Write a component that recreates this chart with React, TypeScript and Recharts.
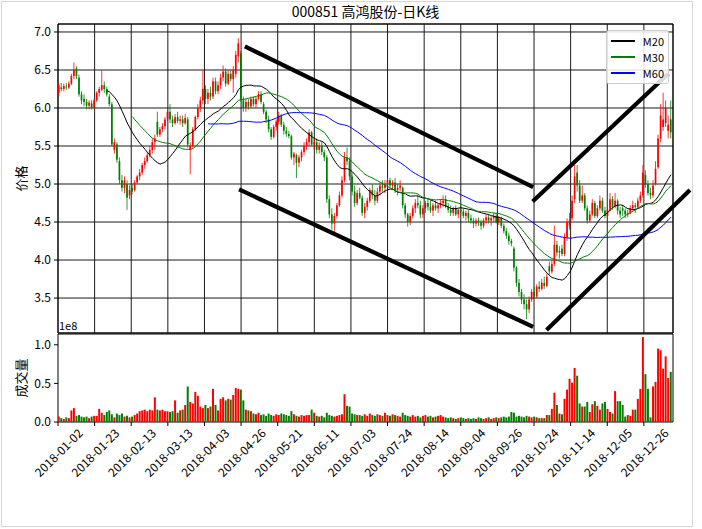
import React from 'react';
import {
  ComposedChart, Bar, Line, XAxis, YAxis, CartesianGrid, ReferenceLine,
  ReferenceArea, Legend, Cell, Label,
} from 'recharts';

const FONT = '"Noto Sans CJK SC", "Noto Sans", sans-serif';
const TITLE = '000851 高鸿股份-日K线';

// x tick labels (every 15th trading day)
const tickLabels = [
  '2018-01-02', '2018-01-23', '2018-02-13', '2018-03-13', '2018-04-03', '2018-04-26',
  '2018-05-21', '2018-06-11', '2018-07-03', '2018-07-24', '2018-08-14', '2018-09-04',
  '2018-09-26', '2018-10-24', '2018-11-14', '2018-12-05', '2018-12-26',
];
const priceTicks = [3.5, 4.0, 4.5, 5.0, 5.5, 6.0, 6.5, 7.0];
const volumeTicks = [0, 50, 100]; // millions of shares (axis shows 1e8 units)

// daily candles [open, high, low, close]
const jan = [
  [6.20, 6.33, 6.15, 6.30], [6.27, 6.33, 6.22, 6.25], [6.25, 6.32, 6.22, 6.29], [6.28, 6.33, 6.24, 6.27],
  [6.27, 6.35, 6.25, 6.32], [6.32, 6.45, 6.30, 6.42], [6.42, 6.60, 6.38, 6.50], [6.52, 6.55, 6.38, 6.42],
  [6.40, 6.44, 6.15, 6.18], [6.18, 6.22, 6.05, 6.10], [6.12, 6.18, 6.02, 6.08], [6.08, 6.12, 5.98, 6.03],
  [6.03, 6.10, 5.98, 6.07], [6.06, 6.10, 5.98, 6.00], [6.01, 6.12, 5.99, 6.10], [6.10, 6.22, 6.08, 6.20],
  [6.20, 6.28, 6.15, 6.25], [6.24, 6.50, 6.22, 6.30], [6.30, 6.35, 6.20, 6.25], [6.25, 6.28, 6.15, 6.18],
  [6.15, 6.18, 6.02, 6.05], [6.05, 6.08, 5.50, 5.52],
];
const feb = [
  [5.45, 5.60, 5.40, 5.55], [5.52, 5.55, 5.28, 5.32], [5.30, 5.35, 5.00, 5.05], [5.05, 5.12, 4.90, 4.95],
  [4.95, 5.10, 4.88, 5.05], [5.00, 5.05, 4.66, 4.82], [4.85, 4.98, 4.80, 4.92], [4.95, 5.00, 4.86, 4.90],
  [4.92, 5.05, 4.90, 5.02], [5.02, 5.12, 5.00, 5.10], [5.10, 5.20, 5.05, 5.15], [5.15, 5.28, 5.12, 5.25],
  [5.25, 5.35, 5.20, 5.30], [5.30, 5.42, 5.28, 5.38], [5.38, 5.50, 5.35, 5.45],
];
const mar = [
  [5.45, 5.60, 5.40, 5.55], [5.55, 5.65, 5.45, 5.60], [5.82, 5.95, 5.62, 5.65], [5.65, 5.75, 5.62, 5.72],
  [5.72, 5.80, 5.68, 5.76], [5.76, 5.88, 5.72, 5.85], [5.85, 5.98, 5.82, 5.95], [5.95, 6.05, 5.80, 5.85],
  [5.85, 5.90, 5.75, 5.80], [5.80, 5.92, 5.78, 5.88], [5.88, 5.95, 5.80, 5.83], [5.83, 5.90, 5.78, 5.85],
  [5.85, 5.90, 5.75, 5.80], [5.80, 5.92, 5.78, 5.87], [5.85, 5.88, 5.48, 5.52], [5.45, 5.55, 5.13, 5.50],
  [5.50, 5.75, 5.48, 5.72], [5.72, 5.90, 5.70, 5.88], [5.88, 6.05, 5.85, 6.00], [6.00, 6.15, 5.95, 6.10],
  [6.10, 6.50, 6.05, 6.25], [6.25, 6.30, 6.05, 6.12],
];
const apr = [
  [6.12, 6.25, 6.05, 6.20], [6.20, 6.28, 6.10, 6.15], [6.15, 6.40, 6.12, 6.35], [6.35, 6.40, 6.18, 6.22],
  [6.22, 6.35, 6.18, 6.30], [6.30, 6.45, 6.25, 6.40], [6.40, 6.56, 6.35, 6.48], [6.48, 6.52, 6.28, 6.32],
  [6.32, 6.50, 6.30, 6.45], [6.45, 6.50, 6.35, 6.38], [6.38, 6.55, 6.20, 6.50], [6.45, 6.75, 6.40, 6.70],
  [6.68, 6.92, 6.60, 6.85], [6.72, 6.75, 6.08, 6.12], [6.10, 6.15, 5.95, 6.00], [6.00, 6.12, 5.95, 6.08],
  [6.08, 6.12, 5.98, 6.02], [6.02, 6.15, 6.00, 6.12],
];
const may = [
  [6.12, 6.15, 6.02, 6.05], [6.05, 6.15, 6.00, 6.12], [6.12, 6.22, 6.10, 6.18], [6.18, 6.22, 6.05, 6.08],
  [6.05, 6.08, 5.92, 5.95], [5.95, 5.98, 5.80, 5.85], [5.85, 5.90, 5.68, 5.72], [5.72, 5.75, 5.58, 5.62],
  [5.62, 5.78, 5.60, 5.75], [5.75, 5.85, 5.70, 5.82], [5.82, 5.95, 5.78, 5.90], [5.90, 5.92, 5.75, 5.78],
  [5.78, 5.82, 5.65, 5.70], [5.70, 5.75, 5.62, 5.66], [5.66, 5.70, 5.60, 5.63], [5.63, 5.65, 5.32, 5.35],
  [5.35, 5.42, 5.25, 5.40], [5.38, 5.40, 5.08, 5.28], [5.28, 5.38, 5.22, 5.35], [5.35, 5.45, 5.30, 5.42],
  [5.42, 5.55, 5.38, 5.50], [5.50, 5.60, 5.45, 5.55],
];
const jun = [
  [5.55, 5.72, 5.50, 5.68], [5.68, 5.70, 5.50, 5.52], [5.52, 5.60, 5.45, 5.55], [5.55, 5.60, 5.40, 5.45],
  [5.45, 5.55, 5.40, 5.50], [5.50, 5.55, 5.38, 5.42], [5.42, 5.45, 5.30, 5.35], [5.35, 5.38, 4.75, 4.80],
  [4.80, 4.85, 4.55, 4.60], [4.60, 4.68, 4.40, 4.48], [4.48, 4.62, 4.37, 4.58], [4.58, 4.75, 4.55, 4.72],
  [4.72, 4.90, 4.70, 4.85], [4.85, 5.10, 4.82, 5.05], [5.05, 5.42, 5.02, 5.35], [5.35, 5.48, 5.25, 5.30],
  [5.30, 5.35, 5.05, 5.10], [5.10, 5.15, 4.85, 4.90], [4.90, 4.98, 4.70, 4.75], [4.75, 4.92, 4.72, 4.88],
];
const jul = [
  [4.88, 4.95, 4.80, 4.82], [4.82, 4.85, 4.58, 4.62], [4.62, 4.75, 4.55, 4.70], [4.70, 4.82, 4.65, 4.78],
  [4.78, 4.95, 4.75, 4.92], [4.92, 5.00, 4.80, 4.85], [4.85, 4.92, 4.72, 4.78], [4.78, 4.95, 4.75, 4.90],
  [4.90, 5.02, 4.85, 4.98], [4.98, 5.05, 4.90, 4.95], [4.95, 5.05, 4.88, 5.00], [5.00, 5.08, 4.95, 5.05],
  [5.05, 5.08, 4.95, 4.98], [4.98, 5.05, 4.92, 5.02], [5.02, 5.08, 4.88, 4.92], [4.92, 5.00, 4.85, 4.95],
  [4.95, 5.05, 4.90, 4.98], [4.95, 4.97, 4.68, 4.72], [4.72, 4.75, 4.55, 4.60], [4.60, 4.62, 4.44, 4.50],
  [4.50, 4.62, 4.46, 4.58], [4.58, 4.72, 4.55, 4.68],
];
const aug = [
  [4.68, 4.80, 4.62, 4.75], [4.75, 4.85, 4.68, 4.72], [4.72, 4.78, 4.55, 4.60], [4.60, 4.72, 4.55, 4.68],
  [4.68, 4.78, 4.62, 4.75], [4.75, 4.80, 4.65, 4.70], [4.70, 4.78, 4.62, 4.65], [4.65, 4.75, 4.58, 4.72],
  [4.72, 4.78, 4.65, 4.68], [4.68, 4.75, 4.62, 4.72], [4.72, 4.80, 4.68, 4.75], [4.75, 4.85, 4.70, 4.78],
  [4.80, 4.85, 4.68, 4.70], [4.70, 4.75, 4.62, 4.66], [4.66, 4.72, 4.58, 4.62], [4.62, 4.70, 4.58, 4.68],
  [4.68, 4.72, 4.58, 4.60], [4.60, 4.68, 4.55, 4.66], [4.66, 4.72, 4.60, 4.64], [4.64, 4.68, 4.55, 4.58],
  [4.58, 4.65, 4.52, 4.62], [4.62, 4.66, 4.50, 4.55], [4.55, 4.60, 4.48, 4.52],
];
const sep = [
  [4.52, 4.55, 4.42, 4.48], [4.48, 4.55, 4.44, 4.52], [4.52, 4.56, 4.45, 4.50], [4.50, 4.53, 4.40, 4.45],
  [4.45, 4.55, 4.42, 4.52], [4.52, 4.60, 4.48, 4.56], [4.56, 4.60, 4.48, 4.52], [4.52, 4.58, 4.45, 4.55],
  [4.55, 4.62, 4.50, 4.58], [4.58, 4.62, 4.48, 4.50], [4.50, 4.58, 4.46, 4.55], [4.55, 4.57, 4.42, 4.45],
  [4.45, 4.48, 4.35, 4.38], [4.38, 4.42, 4.28, 4.32], [4.32, 4.36, 4.20, 4.25], [4.25, 4.28, 4.18, 4.22],
  [4.15, 4.18, 3.85, 3.90], [3.90, 3.92, 3.65, 3.70], [3.70, 3.75, 3.52, 3.58],
];
const oct = [
  [3.58, 3.62, 3.42, 3.48], [3.48, 3.55, 3.35, 3.42], [3.42, 3.48, 3.22, 3.35], [3.35, 3.52, 3.30, 3.48],
  [3.48, 3.62, 3.45, 3.58], [3.58, 3.65, 3.50, 3.52], [3.52, 3.68, 3.50, 3.65], [3.65, 3.72, 3.58, 3.62],
  [3.62, 3.75, 3.60, 3.70], [3.70, 3.78, 3.62, 3.66], [3.66, 3.82, 3.64, 3.78], [3.92, 3.98, 3.80, 3.85],
  [3.85, 4.00, 3.82, 3.95], [3.95, 4.45, 3.92, 4.20], [4.20, 4.25, 4.05, 4.10], [4.10, 4.18, 4.02, 4.12],
  [4.15, 4.20, 4.05, 4.08], [4.08, 4.35, 4.05, 4.30],
];
const nov = [
  [4.30, 4.55, 4.25, 4.50], [4.45, 4.62, 4.40, 4.52], [4.55, 4.85, 4.52, 4.78], [4.80, 5.25, 4.75, 5.10],
  [5.15, 5.25, 4.90, 4.98], [4.98, 5.05, 4.75, 4.78], [4.78, 4.98, 4.75, 4.85], [4.85, 4.88, 4.65, 4.68],
  [4.68, 4.72, 4.48, 4.52], [4.52, 4.65, 4.50, 4.60], [4.60, 4.80, 4.58, 4.75], [4.75, 4.78, 4.55, 4.58],
  [4.58, 4.72, 4.55, 4.68], [4.68, 4.85, 4.65, 4.78], [4.78, 4.82, 4.62, 4.65], [4.65, 4.70, 4.55, 4.58],
  [4.58, 4.70, 4.56, 4.66], [4.66, 4.88, 4.64, 4.80], [4.80, 4.84, 4.66, 4.70], [4.70, 4.88, 4.68, 4.78],
  [4.78, 4.80, 4.60, 4.65], [4.65, 4.70, 4.55, 4.60],
];
const dec = [
  [4.68, 4.72, 4.58, 4.65], [4.65, 4.68, 4.55, 4.60], [4.60, 4.66, 4.56, 4.62], [4.62, 4.72, 4.60, 4.68],
  [4.68, 4.78, 4.65, 4.72], [4.72, 4.75, 4.62, 4.70], [4.70, 4.82, 4.68, 4.78], [4.78, 4.90, 4.75, 4.85],
  [4.85, 5.25, 4.82, 5.15], [5.12, 5.18, 4.95, 5.00], [5.00, 5.05, 4.85, 4.88], [4.88, 4.95, 4.80, 4.85],
  [4.85, 5.05, 4.82, 4.98], [5.00, 5.30, 4.98, 5.20], [5.22, 5.65, 5.20, 5.60], [5.60, 6.05, 5.55, 5.90],
  [5.75, 6.20, 5.70, 5.85], [5.80, 6.10, 5.75, 6.00], [5.70, 5.90, 5.60, 5.78], [5.85, 6.10, 5.60, 5.68],
];

// daily volume, millions of shares
const volJan = [7, 5, 4, 6, 5, 15, 18, 8, 9, 7, 6, 7, 5, 7, 8, 8, 17, 12, 9, 13, 15, 10];
const volFeb = [6, 11, 9, 11, 7, 8, 6, 7, 9, 11, 14, 15, 16, 14, 16];
const volMar = [15, 32, 16, 15, 16, 14, 14, 13, 14, 28, 12, 15, 16, 22, 46, 26, 24, 39, 34, 20, 18, 22];
const volApr = [18, 20, 43, 22, 15, 30, 32, 28, 30, 29, 35, 44, 43, 42, 28, 16, 15, 14];
const volMay = [11, 10, 12, 9, 10, 8, 11, 9, 8, 10, 9, 11, 10, 9, 8, 14, 10, 8, 7, 9, 8, 9];
const volJun = [9, 16, 12, 8, 7, 8, 6, 12, 9, 8, 7, 8, 9, 10, 36, 21, 20, 11, 10, 9];
const volJul = [9, 8, 10, 8, 11, 9, 8, 10, 9, 8, 12, 9, 8, 10, 9, 8, 7, 12, 9, 8, 7, 9];
const volAug = [7, 8, 6, 8, 9, 7, 8, 6, 7, 8, 9, 7, 6, 5, 6, 5, 4, 5, 6, 5, 4, 5, 4];
const volSep = [5, 4, 6, 5, 4, 5, 6, 4, 5, 6, 5, 6, 7, 6, 7, 13, 12, 7, 8];
const volOct = [7, 6, 8, 7, 6, 7, 6, 5, 5, 5, 9, 9, 17, 38, 22, 11, 10, 30];
const volNov = [42, 56, 51, 70, 60, 24, 20, 20, 26, 13, 23, 27, 21, 16, 24, 26, 17, 13, 11, 40, 27, 27];
const volDec = [22, 7, 9, 8, 16, 16, 30, 43, 110, 62, 43, 6, 46, 52, 95, 93, 69, 85, 57, 65];

// hand-drawn trend channel lines, [[index, price], [index, price]]
const trendLines = [
  [[73.5, 6.81], [187.5, 4.96]],
  [[71.2, 4.93], [187.5, 3.12]],
  [[187.3, 4.77], [240.9, 6.45]],
  [[192.8, 3.08], [249.5, 4.92]],
];

const maSeries = [
  { key: 'ma20', name: 'M20', n: 20, color: '#000000' },
  { key: 'ma30', name: 'M30', n: 30, color: '#008000' },
  { key: 'ma60', name: 'M60', n: 60, color: '#0000ff' },
];

const RED = '#ff0000';
const GREEN = '#008000';
const X_MIN = -0.4;
const X_MAX = 242.8;
const TICK_STEP = 14.48;
const P_MIN = 3.04;
const P_MAX = 7.105;
const V_MAX = 114;

const candles = [...jan, ...feb, ...mar, ...apr, ...may, ...jun, ...jul, ...aug, ...sep, ...oct, ...nov, ...dec];
const volumes = [...volJan, ...volFeb, ...volMar, ...volApr, ...volMay, ...volJun, ...volJul, ...volAug, ...volSep, ...volOct, ...volNov, ...volDec];
const closes = candles.map((c) => c[3]);

const rolling = (n: number, i: number) => {
  if (i < n - 1) return null;
  let s = 0;
  for (let k = i - n + 1; k <= i; k++) s += closes[k];
  return s / n;
};

const data = candles.map(([o, h, l, c], i) => {
  const row: any = { i, o, h, l, c, range: [l, h], vol: volumes[i], up: c >= o };
  maSeries.forEach((m) => { row[m.key] = rolling(m.n, i); });
  return row;
});

const xTicks = tickLabels.map((_, k) => X_MIN + k * TICK_STEP);

const CandleShape = (props: any) => {
  const { x, y, width, height, payload } = props;
  if (!payload || x == null) return null;
  const { o, h, l, c } = payload;
  const cx = x + width / 2;
  const top = Math.min(y, y + height);
  const bot = Math.max(y, y + height);
  const span = h - l || 1;
  const py = (v: number) => top + ((h - v) / span) * (bot - top);
  const color = c >= o ? RED : GREEN;
  const y1 = py(Math.max(o, c));
  const y2 = py(Math.min(o, c));
  return (
    <g>
      <line x1={cx} x2={cx} y1={top} y2={bot} stroke={color} strokeWidth={0.8} />
      <rect x={cx - 0.85} y={y1} width={1.7} height={Math.max(y2 - y1, 0.8)} fill={color} />
    </g>
  );
};

const DateTick = (props: any) => {
  const { x, y, payload } = props;
  const k = Math.round((payload.value - X_MIN) / TICK_STEP);
  return (
    <g transform={`translate(${x},${y + 24})`}>
      <text transform="rotate(-45)" textAnchor="middle" dominantBaseline="central"
        fontSize={12} fontFamily={FONT} fill="#000">{tickLabels[k]}</text>
    </g>
  );
};

const axisTitle = (text: string, withOffset: boolean) => (props: any) => {
  const vb = props.viewBox || { x: 0, y: 0, width: 58, height: 100 };
  const cy = vb.y + vb.height / 2;
  return (
    <g>
      <text x={20} y={cy} transform={`rotate(-90, 20, ${cy})`} textAnchor="middle"
        dominantBaseline="central" fontSize={13} fontFamily={FONT} fill="#000">{text}</text>
      {withOffset && (
        <text x={vb.x + vb.width + 1} y={vb.y - 4} fontSize={11} fontFamily={FONT} fill="#000">1e8</text>
      )}
    </g>
  );
};

const MaLegend = () => (
  <div style={{
    border: '1px solid #cccccc', borderRadius: 3, background: 'rgba(255,255,255,0.85)',
    padding: '2px 4px 2px 4px', fontFamily: FONT, fontSize: 11, width: 53, boxSizing: 'content-box',
  }}>
    {maSeries.map((m) => (
      <div key={m.key} style={{ display: 'flex', alignItems: 'center', height: 16 }}>
        <span style={{ display: 'inline-block', width: 26, height: 1.5, background: m.color, marginRight: 8 }} />
        <span style={{ color: '#000' }}>{m.name}</span>
      </div>
    ))}
  </div>
);

const tickStyle = { fontSize: 12, fill: '#000', fontFamily: FONT };

export default function App() {
  return (
    <div style={{ position: 'absolute', left: 0, top: 0, width: 702, height: 529, background: '#fff', fontFamily: FONT }}>
      <div style={{ position: 'absolute', left: 1, top: 1, width: 692, height: 526, border: '1px solid #d6d6d6', boxSizing: 'border-box' }} />
      <div style={{ position: 'absolute', left: 58, top: 2, width: 615, textAlign: 'center', fontSize: 14, lineHeight: '18px', color: '#000' }}>
        {TITLE}
      </div>

      <div style={{ position: 'absolute', left: 0, top: 0 }}>
        <ComposedChart width={702} height={334} data={data} margin={{ top: 24, right: 29, bottom: 1, left: 0 }}>
          <CartesianGrid stroke="#1a1a1a" strokeWidth={1} />
          <XAxis type="number" dataKey="i" domain={[X_MIN, X_MAX]} ticks={xTicks} interval={0} allowDataOverflow hide />
          <YAxis type="number" domain={[P_MIN, P_MAX]} ticks={priceTicks} interval={0} allowDataOverflow width={58}
            axisLine={false} tickSize={4} tickMargin={3} tick={tickStyle} tickLine={{ stroke: '#000' }}
            tickFormatter={(v: number) => v.toFixed(1)}>
            <Label content={axisTitle('价格', false)} />
          </YAxis>
          <ReferenceArea x1={X_MIN} x2={X_MAX} y1={P_MIN} y2={P_MAX} fill="none" stroke="#000" strokeWidth={1} ifOverflow="visible" />
          <Bar dataKey="range" barSize={2} isAnimationActive={false} shape={CandleShape} />
          {maSeries.map((m) => (
            <Line key={m.key} dataKey={m.key} name={m.name} type="linear" stroke={m.color} strokeWidth={1}
              dot={false} activeDot={false} isAnimationActive={false} connectNulls={false} />
          ))}
          {trendLines.map((seg, k) => (
            <ReferenceLine key={k} segment={[{ x: seg[0][0], y: seg[0][1] }, { x: seg[1][0], y: seg[1][1] }]}
              stroke="#000" strokeWidth={4.2} ifOverflow="visible" />
          ))}
          <Legend align="center" verticalAlign="middle" layout="horizontal"
            wrapperStyle={{ left: 606, top: 30, width: 63 }} content={<MaLegend />} />
        </ComposedChart>
      </div>

      <div style={{ position: 'absolute', left: 0, top: 318 }}>
        <ComposedChart width={702} height={211} data={data} margin={{ top: 16, right: 29, bottom: 27, left: 0 }}>
          <XAxis type="number" dataKey="i" domain={[X_MIN, X_MAX]} ticks={xTicks} allowDataOverflow height={80}
            tickSize={4} axisLine={false} interval={0} tick={<DateTick />} tickLine={{ stroke: '#000' }} />
          <YAxis type="number" domain={[0, V_MAX]} ticks={volumeTicks} interval={0} allowDataOverflow width={58}
            axisLine={false} tickSize={4} tickMargin={3} tick={tickStyle} tickLine={{ stroke: '#000' }}
            tickFormatter={(v: number) => (v / 100).toFixed(1)}>
            <Label content={axisTitle('成交量', true)} />
          </YAxis>
          <ReferenceArea x1={X_MIN} x2={X_MAX} y1={0} y2={V_MAX} fill="none" stroke="#000" strokeWidth={1} ifOverflow="visible" />
          <Bar dataKey="vol" barSize={2} isAnimationActive={false}>
            {data.map((d, k) => (
              <Cell key={k} fill={d.up ? RED : GREEN} />
            ))}
          </Bar>
        </ComposedChart>
      </div>
    </div>
  );
}
